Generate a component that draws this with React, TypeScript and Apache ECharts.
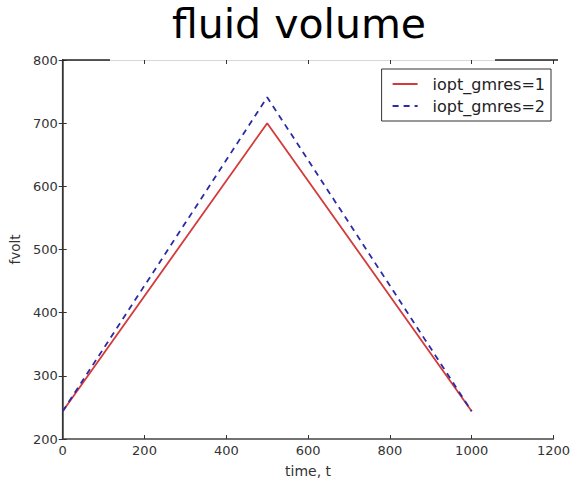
import React, { useEffect, useRef } from "react";
import * as echarts from "echarts";

const titleText = "fluid volume";
const xLabel = "time, t";
const yLabel = "fvolt";
const seriesNames = ["iopt_gmres=1", "iopt_gmres=2"];
const timeValues = [0, 500, 1000];
const fvolt1 = [244, 700, 244];
const fvolt2 = [244, 741, 244];

const xMin = 0, xMax = 1200, xStep = 200;
const yMin = 200, yMax = 800, yStep = 100;

export default function App() {
  const ref = useRef<HTMLDivElement>(null);
  useEffect(() => {
    if (!ref.current) return;
    const chart = echarts.init(ref.current, null, { renderer: "svg" });
    const tickFont = { fontFamily: "DejaVu Sans", fontSize: 13, color: "#333", formatter: (v: number) => String(v) };
    const axisCommon = {
      type: "value" as const,
      splitLine: { show: false },
      axisTick: { show: true, inside: true, length: 4, lineStyle: { color: "#333", width: 1 } },
    };
    chart.setOption({
      animation: false,
      backgroundColor: "#fff",
      title: {
        text: titleText,
        left: 294,
        textAlign: "center",
        top: -2,
        textStyle: { fontFamily: "DejaVu Sans", fontSize: 41, fontWeight: "normal", color: "#000" },
      },
      grid: { left: 62, width: 496, top: 60, height: 385, containLabel: false },
      legend: {
        orient: "vertical",
        right: 22,
        top: 69,
        itemWidth: 25,
        itemHeight: 12,
        itemGap: 6,
        padding: [7, 6, 7, 10],
        borderColor: "#333",
        borderWidth: 1,
        borderRadius: 0,
        backgroundColor: "#fff",
        itemStyle: { opacity: 0 },
        textStyle: { fontFamily: "DejaVu Sans", fontSize: 16, color: "#222", padding: [0, 0, 0, 10] },
        data: seriesNames,
      },
      xAxis: [
        {
          ...axisCommon,
          min: xMin, max: xMax, interval: xStep,
          position: "bottom",
          name: xLabel,
          nameLocation: "middle",
          nameGap: 25,
          nameTextStyle: { fontFamily: "DejaVu Sans", fontSize: 14, color: "#333" },
          axisLine: { show: true, lineStyle: { color: "#444", width: 1.5 } },
          axisLabel: { ...tickFont, margin: 5 },
        },
        {
          ...axisCommon,
          min: xMin, max: xMax, interval: xStep,
          position: "top",
          axisLine: { show: true, lineStyle: { color: "#d8d8d8", width: 1 } },
          axisLabel: { show: false },
        },
      ],
      yAxis: [
        {
          ...axisCommon,
          min: yMin, max: yMax, interval: yStep,
          position: "left",
          name: yLabel,
          nameLocation: "middle",
          nameGap: 37,
          nameTextStyle: { fontFamily: "DejaVu Sans", fontSize: 13.5, color: "#333" },
          axisLine: { show: true, lineStyle: { color: "#444", width: 1.5 } },
          axisLabel: { ...tickFont, margin: 5 },
        },
        {
          ...axisCommon,
          min: yMin, max: yMax, interval: yStep,
          position: "right",
          axisLine: { show: true, lineStyle: { color: "#333", width: 1.2 } },
          axisLabel: { show: false },
        },
      ],
      graphic: [
        { type: "line", shape: { x1: 62, y1: 60, x2: 110, y2: 60 }, style: { stroke: "#222", lineWidth: 1.5 }, z: 100 },
        { type: "line", shape: { x1: 495, y1: 60, x2: 558, y2: 60 }, style: { stroke: "#222", lineWidth: 1.5 }, z: 100 },
      ],
      series: [
        {
          name: seriesNames[0],
          type: "line",
          xAxisIndex: 0,
          yAxisIndex: 0,
          showSymbol: false,
          symbol: "none",
          data: timeValues.map((t, i) => [t, fvolt1[i]]),
          lineStyle: { color: "#d43a3a", width: 1.8, type: "solid" },
          itemStyle: { color: "#d43a3a" },
        },
        {
          name: seriesNames[1],
          type: "line",
          xAxisIndex: 0,
          yAxisIndex: 0,
          showSymbol: false,
          symbol: "none",
          data: timeValues.map((t, i) => [t, fvolt2[i]]),
          lineStyle: { color: "#2b2ba6", width: 1.8, type: [6, 5] },
          itemStyle: { color: "#2b2ba6" },
        },
      ],
    });
    return () => chart.dispose();
  }, []);
  return <div ref={ref} style={{ width: 573, height: 483, position: "absolute", left: 0, top: 0 }} />;
}
